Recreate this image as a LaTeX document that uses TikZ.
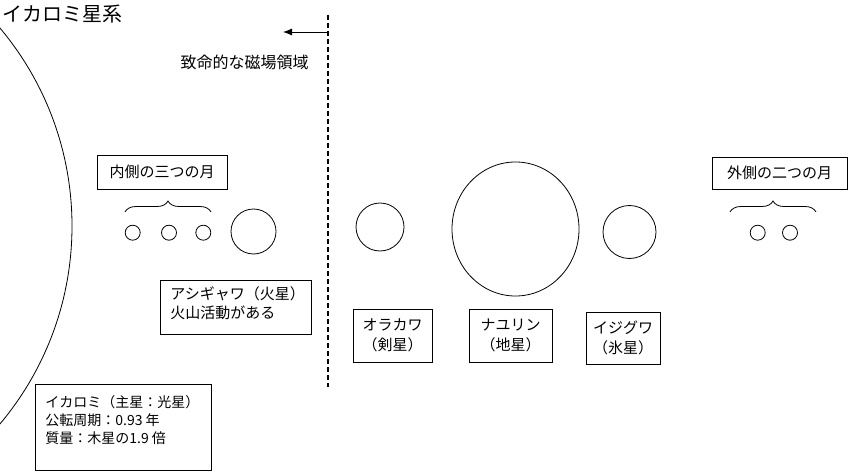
\documentclass[tikz,border=0pt]{standalone}
\usepackage{fontspec}
\setmainfont{Noto Sans CJK JP}
\usetikzlibrary{shapes.geometric,arrows.meta,decorations.pathreplacing}
\newcommand{\toptext}[3]{\parbox[t][#2][t]{#1}{#3}}

\begin{document}
\begin{tikzpicture}[
    x=1pt, y=-1pt,
    line width=0.8pt,
    infobox/.style={
      draw,
      anchor=north west,
      inner xsep=10pt,
      inner ysep=6pt,
      font=\fontsize{15}{19}\selectfont
    },
    namebox/.style={
      draw,
      align=center,
      inner sep=0pt,
      font=\fontsize{15}{20}\selectfont
    },
    moon/.style={draw, circle, minimum size=15pt, inner sep=0pt},
    planet/.style={draw, circle, inner sep=0pt},
    moonbrace/.style={decorate, decoration={brace, amplitude=11pt}}
  ]
  \useasboundingbox (0,0) rectangle (850,473);

  % the star itself, only its edge is seen
  \begin{scope}
    \clip (0,0) rectangle (850,473);
    \node[planet, minimum size=616pt] (ikaromi) at (-236,226) {};
  \end{scope}

  \node[anchor=west, inner sep=0pt, font=\fontsize{20}{24}\selectfont]
    (title) at (2,14) {イカロミ星系};

  % magnetic zone
  \coordinate (zonetop) at (328,15);
  \coordinate (zonebottom) at (328,387);
  \coordinate (zonearrow) at (328,32);
  \coordinate (zonetip) at (283,32);
  \draw[line width=1.6pt, dash pattern=on 5pt off 3pt] (zonetop) -- (zonebottom);
  \draw[-{Latex[length=9pt,width=7pt]}] (zonearrow) -- (zonetip);
  \node[anchor=east, inner sep=0pt, font=\fontsize{16}{19}\selectfont]
    (zonelabel) at (309,62) {致命的な磁場領域};

  % inner moons
  \node[namebox, minimum width=130pt, minimum height=34pt] (innerbox) at (162,172)
    {内側の三つの月};
  \node[moon] (moonA) at (132.7,232.7) {};
  \node[moon] (moonB) at (169,232.7) {};
  \node[moon] (moonC) at (203.3,232.7) {};
  \coordinate (innerleft) at (125,212);
  \coordinate (innerright) at (211,212);
  \draw[moonbrace] (innerleft) -- (innerright);

  % planets
  \node[planet, minimum size=45pt] (ashigyawa) at (253.5,231.5) {};
  \node[planet, minimum size=48pt] (orakawa) at (380,227) {};
  \node[draw, ellipse, minimum width=127pt, minimum height=134pt, inner sep=0pt]
    (nayurin) at (515.5,229) {};
  \node[planet, minimum size=53pt] (ijiguwa) at (629.5,232) {};

  % outer moons
  \node[namebox, minimum width=135pt, minimum height=32pt] (outerbox) at (779.5,173)
    {外側の二つの月};
  \node[moon] (moonD) at (757.7,232.7) {};
  \node[moon] (moonE) at (790,232.7) {};
  \coordinate (outerleft) at (730,212);
  \coordinate (outerright) at (816,212);
  \draw[moonbrace] (outerleft) -- (outerright);

  % notes
  \node[infobox] (ashibox) at (160,280)
    {\toptext{131pt}{42pt}{アシギャワ（火星）\\火山活動がある}};
  \node[namebox, minimum width=79pt, minimum height=53pt] (orabox) at (392.5,335.5)
    {オラカワ\\（剣星）};
  \node[namebox, minimum width=83pt, minimum height=53pt] (naybox) at (510.5,335.5)
    {ナユリン\\（地星）};
  \node[namebox, minimum width=74pt, minimum height=52pt] (ijibox) at (623,338)
    {イジグワ\\（氷星）};
  \node[infobox, inner ysep=11pt, font=\fontsize{14}{18}\selectfont] (starbox) at (35,384)
    {\toptext{156pt}{64pt}{イカロミ（主星：光星）\\公転周期：0.93 年\\質量：木星の1.9 倍}};
\end{tikzpicture}
\end{document}
